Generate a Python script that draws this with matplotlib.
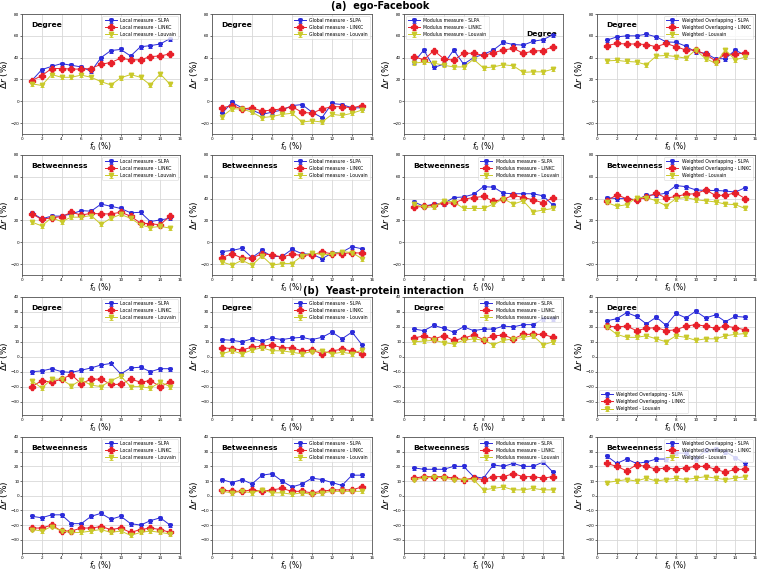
import matplotlib
matplotlib.use("Agg")
import matplotlib.pyplot as plt
import numpy as np

f0 = list(range(1, 16))

# ---------- (a) ego-Facebook ----------
# Degree
fb_deg_local_slpa = [19, 29, 32, 34.5, 33, 31.5, 27.5, 40, 46.5, 47.5, 41.5, 50, 51, 52.5, 57.5]
fb_deg_local_linkc = [19, 23.5, 30, 30, 29.5, 29.5, 30, 34, 35.5, 39.5, 38, 38, 41, 41.5, 43.5]
fb_deg_local_louv = [16, 14.5, 24.5, 22, 22, 24, 22, 18, 15, 21.5, 24.5, 22, 15, 25, 15.5]

fb_deg_global_slpa = [-11, -1, -6, -8, -12, -10, -8, -4, -3, -10, -15, -2, -3, -6, -6]
fb_deg_global_linkc = [-6, -4, -7, -6, -9, -8, -7, -5, -10, -11, -7, -5, -5, -6, -4]
fb_deg_global_louv = [-14, -7, -7, -10, -15, -14, -12, -11, -19, -18, -19, -12, -13, -11, -8]

fb_deg_mod_slpa = [36, 47, 31, 34, 47, 34, 40, 43, 47, 54, 52, 51.5, 55, 56.5, 61]
fb_deg_mod_linkc = [41, 38, 46.5, 39, 37.5, 44, 44, 42, 44.5, 47, 48.5, 44, 46, 46.5, 50]
fb_deg_mod_louv = [35, 36, 35, 33, 31.5, 31.5, 38.5, 30.5, 31.5, 33.5, 32.5, 26.5, 27, 27, 29.5]

fb_deg_w_slpa = [56, 59, 60, 60, 61.5, 59, 54.5, 54, 50.5, 45, 44, 39, 39, 47, 42]
fb_deg_w_linkc = [51, 53, 52.5, 52.5, 52, 50, 53, 50, 47, 47, 43, 37, 43, 43, 44.5]
fb_deg_w_louv = [37, 37.5, 36.5, 36, 33.5, 41.5, 42, 41, 39.5, 47, 39, 35, 47, 38, 40.5]

# Betweenness
fb_btw_local_slpa = [27, 21.5, 24, 24, 26, 29, 28.5, 35, 33, 31, 27, 27.5, 19, 20.5, 22]
fb_btw_local_linkc = [26, 21, 22.5, 23.5, 27.5, 25, 26.5, 26, 26, 27.5, 24, 17.5, 17, 16, 24.5]
fb_btw_local_louv = [18.5, 15, 22.5, 19, 23, 23, 24.5, 16.5, 22, 25.5, 22, 16, 13.5, 14.5, 13]

fb_btw_global_slpa = [-8.5, -7.5, -5.5, -14, -7.5, -13, -13, -6.5, -10.5, -11, -15, -10, -9, -4, -6]
fb_btw_global_linkc = [-14, -10.5, -14.5, -14.5, -10.5, -11.5, -13.5, -11, -12, -11.5, -9, -10.5, -10.5, -9.5, -10]
fb_btw_global_louv = [-18, -21, -16.5, -21, -12.5, -21, -19.5, -19.5, -12.5, -9.5, -11.5, -11, -8.5, -9.5, -15]

fb_btw_mod_slpa = [37, 33, 35, 35.5, 41, 41.5, 44, 51, 50.5, 45, 44.5, 44.5, 44.5, 42.5, 34]
fb_btw_mod_linkc = [32, 33, 34, 36, 36, 39.5, 41, 42, 37.5, 39.5, 43, 41, 39, 36, 41]
fb_btw_mod_louv = [35, 32, 32.5, 38, 37, 31, 31, 31, 35, 40, 35, 38, 28, 29.5, 31]

fb_btw_w_slpa = [41, 40, 40, 39, 43, 43.5, 45, 52, 51, 48, 47.5, 47.5, 47, 46, 50]
fb_btw_w_linkc = [38, 43.5, 40, 38.5, 41.5, 45, 40.5, 42, 44, 44.5, 48, 43, 43, 45.5, 40]
fb_btw_w_louv = [36.5, 33, 34.5, 41, 41, 38, 33.5, 40, 41, 39, 38, 37, 35, 34.5, 31]

# ---------- (b) Yeast-protein interaction ----------
ye_deg_local_slpa = [-10, -9.5, -8, -10, -10.5, -9, -7.5, -5.5, -4.5, -11.5, -7.5, -7, -10, -8, -8]
ye_deg_local_linkc = [-20, -16, -17, -15, -12, -18, -15, -15, -18.5, -18.5, -15, -17, -16, -20, -17]
ye_deg_local_louv = [-16, -21, -15, -15, -19.5, -15.5, -19, -20, -16, -13, -20, -20, -21, -17, -20]

ye_deg_global_slpa = [11.5, 11, 10, 12, 10.5, 12.5, 11.5, 12.5, 13, 11.5, 13, 16.5, 12, 16.5, 8]
ye_deg_global_linkc = [6, 5.5, 4.5, 6.5, 7, 8, 6, 6, 4, 4.5, 2, 4, 5, 4, 2]
ye_deg_global_louv = [2, 4, 2, 4.5, 6, 4, 4, 3, 2, 3.5, 4, 2, 3, 2, 4.5]

ye_deg_mod_slpa = [18.5, 17.5, 21, 19, 16.5, 20, 17.5, 18.5, 18.5, 20.5, 20, 21.5, 21.5, 25.5, 25.5]
ye_deg_mod_linkc = [12.5, 14, 12, 14, 11, 12.5, 14.5, 11.5, 14, 14.5, 12, 15, 15, 15, 13]
ye_deg_mod_louv = [10, 10.5, 11, 9.5, 8.5, 11, 12, 11, 8, 11, 12, 13, 14, 8, 10]

ye_deg_w_slpa = [24, 25.5, 29.5, 27, 22, 26.5, 21, 29, 26, 30.5, 26, 28, 23.5, 27, 26.5]
ye_deg_w_linkc = [20.5, 20, 20.5, 17.5, 19, 19.5, 17.5, 18, 20.5, 21.5, 20.5, 19, 20.5, 19.5, 18]
ye_deg_w_louv = [20, 15, 13, 13, 14, 12, 10, 14, 13, 11, 12, 12, 14, 15, 15.5]

ye_btw_local_slpa = [-14, -15, -13, -13, -19, -19, -14, -12, -16, -14, -19, -20, -17, -15, -20]
ye_btw_local_linkc = [-22, -22, -20, -24, -24, -22, -22, -21, -23, -22, -25, -23, -22, -23, -25]
ye_btw_local_louv = [-23, -24, -21, -24, -25, -25, -24, -23, -25, -24, -27, -25, -24, -25, -26]

ye_btw_global_slpa = [11, 9, 11, 8, 14, 15, 10, 6, 8, 12, 11, 9, 7, 14, 14]
ye_btw_global_linkc = [4, 3, 3, 4, 3, 4, 5, 3, 3, 2, 3, 4, 4, 4, 6]
ye_btw_global_louv = [3, 2, 3, 2, 4, 2, 2, 1, 2, 1, 2, 3, 3, 3, 3]

ye_btw_mod_slpa = [19, 18, 18, 18, 20, 20, 13, 12, 21, 20, 22, 20, 20, 23, 16]
ye_btw_mod_linkc = [12, 13, 13, 13, 12, 11, 12, 11, 13, 13, 15, 13, 13, 12, 13]
ye_btw_mod_louv = [11, 12, 13, 12, 11, 11, 11, 4, 5, 6, 4, 4, 5, 4, 4]

ye_btw_w_slpa = [27, 22, 25, 22, 23, 25, 25, 29, 29, 25, 31, 32, 30, 26, 22]
ye_btw_w_linkc = [22, 20, 17, 21, 20, 18, 19, 18, 19, 20, 20, 18, 16, 18, 18]
ye_btw_w_louv = [9, 10, 11, 10, 12, 10, 11, 12, 11, 12, 13, 12, 11, 12, 13]

# typical error-bar half-widths
err_fb = 1.8
err_ye = 1.3

labels_local = ["Local measure - SLPA", "Local measure - LINKC", "Local measure - Louvain"]
labels_global = ["Global measure - SLPA", "Global measure - LINKC", "Global measure - Louvain"]
labels_mod = ["Modulus measure - SLPA", "Modulus measure - LINKC", "Modulus measure - Louvain"]
labels_w = ["Weighted Overlapping - SLPA", "Weighted Overlapping - LINKC", "Weighted - Louvain"]

panels = [
    (0, 0, "Degree", (fb_deg_local_slpa, fb_deg_local_linkc, fb_deg_local_louv), labels_local, "upper right", "left"),
    (0, 1, "Degree", (fb_deg_global_slpa, fb_deg_global_linkc, fb_deg_global_louv), labels_global, "upper right", "left"),
    (0, 2, "Degree", (fb_deg_mod_slpa, fb_deg_mod_linkc, fb_deg_mod_louv), labels_mod, "upper left", "right"),
    (0, 3, "Degree", (fb_deg_w_slpa, fb_deg_w_linkc, fb_deg_w_louv), labels_w, "upper right", "left"),
    (1, 0, "Betweenness", (fb_btw_local_slpa, fb_btw_local_linkc, fb_btw_local_louv), labels_local, "upper right", "left"),
    (1, 1, "Betweenness", (fb_btw_global_slpa, fb_btw_global_linkc, fb_btw_global_louv), labels_global, "upper right", "left"),
    (1, 2, "Betweenness", (fb_btw_mod_slpa, fb_btw_mod_linkc, fb_btw_mod_louv), labels_mod, "upper right", "left"),
    (1, 3, "Betweenness", (fb_btw_w_slpa, fb_btw_w_linkc, fb_btw_w_louv), labels_w, "upper right", "left"),
    (2, 0, "Degree", (ye_deg_local_slpa, ye_deg_local_linkc, ye_deg_local_louv), labels_local, "upper right", "left"),
    (2, 1, "Degree", (ye_deg_global_slpa, ye_deg_global_linkc, ye_deg_global_louv), labels_global, "upper right", "left"),
    (2, 2, "Degree", (ye_deg_mod_slpa, ye_deg_mod_linkc, ye_deg_mod_louv), labels_mod, "upper right", "left"),
    (2, 3, "Degree", (ye_deg_w_slpa, ye_deg_w_linkc, ye_deg_w_louv), labels_w, "lower left", "left"),
    (3, 0, "Betweenness", (ye_btw_local_slpa, ye_btw_local_linkc, ye_btw_local_louv), labels_local, "upper right", "left"),
    (3, 1, "Betweenness", (ye_btw_global_slpa, ye_btw_global_linkc, ye_btw_global_louv), labels_global, "upper right", "left"),
    (3, 2, "Betweenness", (ye_btw_mod_slpa, ye_btw_mod_linkc, ye_btw_mod_louv), labels_mod, "upper right", "left"),
    (3, 3, "Betweenness", (ye_btw_w_slpa, ye_btw_w_linkc, ye_btw_w_louv), labels_w, "upper right", "left"),
]

colors = ["#2b2bd9", "#e8202a", "#c9c92a"]
markers = ["*", "P", "v"]
msizes = [3.2, 4.2, 3.2]

W, H = 760, 571
col_left = [22, 212, 404, 597]
col_w = [158, 160, 159, 158]
row_bottom = [134, 275, 415, 553]
row_h = [120, 120, 118, 116]

fig = plt.figure(figsize=(7.6, 5.71), dpi=100)

for (r, c, title, series, labels, loc, side) in panels:
    ax = fig.add_axes([col_left[c] / W, 1 - row_bottom[r] / H, col_w[c] / W, row_h[r] / H])
    err = err_fb if r < 2 else err_ye
    for k in range(3):
        ax.errorbar(f0, series[k], yerr=err, color=colors[k], marker=markers[k],
                    ms=msizes[k], lw=0.7, elinewidth=0.6, capsize=1.5, capthick=0.6,
                    label=labels[k], zorder=3)
    ax.set_xlim(0, 16)
    ax.set_xticks(range(0, 17, 2))
    if r < 2:
        ax.set_ylim(-30, 80)
        ax.set_yticks(range(-20, 81, 20))
    else:
        ax.set_ylim(-39, 40)
        ax.set_yticks(range(-30, 41, 10))
    ax.grid(True, color="#d8d8d8", lw=0.6)
    ax.set_axisbelow(True)
    ax.tick_params(labelsize=3.0, length=1.2, width=0.4, pad=0.8)
    for s in ax.spines.values():
        s.set_linewidth(0.6)
        s.set_color("#555555")
    ax.set_xlabel("$f_0$ (%)", fontsize=5.5, labelpad=0)
    ax.set_ylabel(r"$\Delta r$ (%)", fontsize=6.5, labelpad=0)
    if side == "left":
        ax.text(0.06, 0.93, title, transform=ax.transAxes, fontsize=5.4, fontweight="bold",
                ha="left", va="top")
    else:
        ax.text(0.96, 0.86, title, transform=ax.transAxes, fontsize=5.4, fontweight="bold",
                ha="right", va="top")
    leg = ax.legend(loc=loc, fontsize=3.3, frameon=True, borderpad=0.5, handlelength=2.6,
                    labelspacing=0.45, borderaxespad=0.35)
    leg.get_frame().set_linewidth(0.4)

fig.text(0.5, 1 - 6 / H, "(a)  ego-Facebook", ha="center", va="center", fontsize=7, fontweight="bold")
fig.text(0.505, 1 - 291.5 / H, "(b)  Yeast-protein interaction", ha="center", va="center", fontsize=7, fontweight="bold")

fig.savefig("out.png", dpi=100)
